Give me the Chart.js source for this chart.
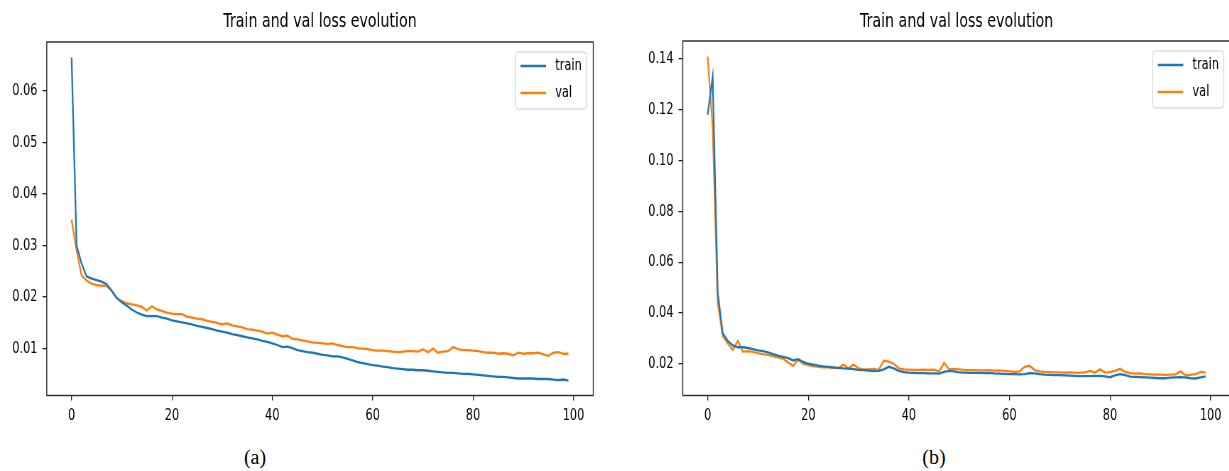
<!DOCTYPE html>
<html>
<head>
<meta charset="utf-8">
<script src="https://cdn.jsdelivr.net/npm/chart.js@4"></script>
<style>
    html, body {
        margin: 0;
        padding: 0;
        width: 1229px;
        height: 471px;
        overflow: hidden;
        background: #fff;
    }
    .panel {
        position: absolute;
        top: 0;
        transform: scaleX(0.71);
        transform-origin: 0 0;
    }
    .caption {
        position: absolute;
        top: 446px;
        font-family: "Liberation Serif", serif;
        font-size: 20px;
        color: #000;
        transform: translateX(-50%);
    }
</style>
</head>
<body>

<div class="panel" style="left:0px"><canvas id="chartA" width="866" height="440"></canvas></div>
<div class="panel" style="left:615px"><canvas id="chartB" width="900" height="440"></canvas></div>

<div class="caption" style="left:255px">(a)</div>
<div class="caption" style="left:934px">(b)</div>

<script>
/* ==========================================================
   DATA
========================================================== */

const epochs = Array.from({ length: 100 }, (_, i) => i);

const xTicks = [0, 20, 40, 60, 80, 100];

const yTicksA = [0.01, 0.02, 0.03, 0.04, 0.05, 0.06];

const yTicksB = [0.02, 0.04, 0.06, 0.08, 0.10, 0.12, 0.14];

const trainA = [
    0.0665, 0.0300, 0.0265, 0.0240, 0.0236, 0.0233, 0.0230, 0.0225, 0.0212, 0.0198,
    0.0190, 0.0183, 0.0176, 0.0170, 0.0166, 0.0163, 0.0163, 0.0163, 0.0160, 0.0158,
    0.0155, 0.0153, 0.0151, 0.0149, 0.0147, 0.0144, 0.0142, 0.0140, 0.0138, 0.0135,
    0.0133, 0.0131, 0.0128, 0.0126, 0.0124, 0.0122, 0.0120, 0.0118, 0.0115, 0.0113,
    0.0110, 0.0107, 0.0103, 0.0104, 0.0101, 0.0097, 0.0095, 0.0093, 0.0092, 0.0090,
    0.0088, 0.0087, 0.0085, 0.0085, 0.0083, 0.0080, 0.0077, 0.0074, 0.0072, 0.0070,
    0.0068, 0.0067, 0.0065, 0.0064, 0.0062, 0.0061, 0.0060, 0.0059, 0.0059, 0.0058,
    0.0058, 0.0057, 0.0056, 0.0055, 0.0054, 0.0053, 0.0053, 0.0052, 0.0051, 0.0051,
    0.0050, 0.0049, 0.0048, 0.0047, 0.0046, 0.0045, 0.0045, 0.0044, 0.0043, 0.0042,
    0.0042, 0.0042, 0.0042, 0.0041, 0.0041, 0.0041, 0.0040, 0.0039, 0.0040, 0.0038
];

const valA = [
    0.0350, 0.0290, 0.0242, 0.0232, 0.0226, 0.0223, 0.0222, 0.0222, 0.0212, 0.0198,
    0.0192, 0.0188, 0.0186, 0.0184, 0.0181, 0.0174, 0.0182, 0.0176, 0.0173, 0.0170,
    0.0168, 0.0167, 0.0167, 0.0162, 0.0160, 0.0158, 0.0157, 0.0154, 0.0152, 0.0150,
    0.0147, 0.0149, 0.0145, 0.0143, 0.0141, 0.0138, 0.0137, 0.0135, 0.0133, 0.0129,
    0.0131, 0.0127, 0.0124, 0.0125, 0.0119, 0.0118, 0.0116, 0.0114, 0.0112, 0.0111,
    0.0110, 0.0109, 0.0110, 0.0107, 0.0105, 0.0103, 0.0103, 0.0101, 0.0100, 0.0099,
    0.0097, 0.0096, 0.0096, 0.0095, 0.0094, 0.0093, 0.0094, 0.0095, 0.0095, 0.0094,
    0.0099, 0.0093, 0.0100, 0.0092, 0.0094, 0.0095, 0.0103, 0.0099, 0.0097, 0.0097,
    0.0096, 0.0095, 0.0093, 0.0092, 0.0092, 0.0090, 0.0091, 0.0090, 0.0087, 0.0092,
    0.0090, 0.0091, 0.0091, 0.0092, 0.0089, 0.0086, 0.0092, 0.0093, 0.0090, 0.0090
];

const trainB = [
    0.1180, 0.1330, 0.0480, 0.0320, 0.0290, 0.0272, 0.0265, 0.0265, 0.0262, 0.0258,
    0.0253, 0.0250, 0.0245, 0.0238, 0.0232, 0.0227, 0.0222, 0.0213, 0.0218, 0.0207,
    0.0200, 0.0197, 0.0193, 0.0190, 0.0188, 0.0186, 0.0184, 0.0182, 0.0181, 0.0179,
    0.0176, 0.0175, 0.0173, 0.0171, 0.0172, 0.0178, 0.0188, 0.0182, 0.0172, 0.0167,
    0.0165, 0.0164, 0.0163, 0.0163, 0.0162, 0.0162, 0.0161, 0.0168, 0.0172, 0.0170,
    0.0166, 0.0165, 0.0164, 0.0164, 0.0164, 0.0163, 0.0164, 0.0162, 0.0161, 0.0160,
    0.0159, 0.0159, 0.0158, 0.0159, 0.0163, 0.0162, 0.0159, 0.0157, 0.0156, 0.0155,
    0.0155, 0.0154, 0.0153, 0.0152, 0.0151, 0.0151, 0.0151, 0.0152, 0.0152, 0.0150,
    0.0147, 0.0154, 0.0159, 0.0155, 0.0149, 0.0148, 0.0147, 0.0146, 0.0145, 0.0144,
    0.0143, 0.0143, 0.0145, 0.0146, 0.0147, 0.0146, 0.0143, 0.0142, 0.0146, 0.0150
];

const valB = [
    0.1410, 0.1130, 0.0440, 0.0310, 0.0280, 0.0255, 0.0290, 0.0248, 0.0250, 0.0247,
    0.0242, 0.0238, 0.0235, 0.0230, 0.0225, 0.0220, 0.0205, 0.0192, 0.0215, 0.0200,
    0.0195, 0.0191, 0.0188, 0.0186, 0.0186, 0.0184, 0.0183, 0.0197, 0.0181, 0.0197,
    0.0182, 0.0178, 0.0178, 0.0180, 0.0176, 0.0212, 0.0208, 0.0200, 0.0182, 0.0178,
    0.0177, 0.0176, 0.0176, 0.0177, 0.0176, 0.0177, 0.0170, 0.0203, 0.0178, 0.0180,
    0.0178, 0.0176, 0.0175, 0.0175, 0.0174, 0.0174, 0.0175, 0.0173, 0.0174, 0.0172,
    0.0170, 0.0168, 0.0170, 0.0188, 0.0192, 0.0175, 0.0170, 0.0168, 0.0167, 0.0166,
    0.0166, 0.0165, 0.0166, 0.0165, 0.0164, 0.0166, 0.0172, 0.0165, 0.0178, 0.0165,
    0.0167, 0.0172, 0.0180, 0.0168, 0.0163, 0.0161, 0.0162, 0.0159, 0.0158, 0.0157,
    0.0157, 0.0156, 0.0157, 0.0158, 0.0170, 0.0155, 0.0156, 0.0159, 0.0168, 0.0165
];


/* ==========================================================
   STYLE
========================================================== */

const FONT = "'DejaVu Sans', sans-serif";

const BLUE = "#1f77b4";

const ORANGE = "#ff7f0e";

const LINE_WIDTH = 2.3;


/* ==========================================================
   PLUGIN : FRAME + LEGEND (matplotlib look)
========================================================== */

const framePlugin = {

    id: "frameLegend",

    afterDraw(chart) {

        const ctx = chart.ctx;
        const area = chart.chartArea;

        // axes frame, all four sides
        ctx.save();
        ctx.strokeStyle = "#333";
        ctx.lineWidth = 1.5;
        ctx.strokeRect(area.left, area.top, area.right - area.left, area.bottom - area.top);

        // legend box, upper right
        ctx.font = "16px " + FONT;

        const labels = chart.data.datasets.map(ds => ds.label);
        const textW = Math.max(...labels.map(t => ctx.measureText(t).width));

        const boxW = 7 + 36 + 13 + textW + 7;
        const boxH = 57;
        const x0 = area.right - 9.3 - boxW;
        const y0 = area.top + 10;

        ctx.beginPath();
        ctx.roundRect(x0, y0, boxW, boxH, 4);
        ctx.fillStyle = "rgba(255,255,255,0.8)";
        ctx.fill();
        ctx.strokeStyle = "#cccccc";
        ctx.lineWidth = 1;
        ctx.stroke();

        chart.data.datasets.forEach((ds, i) => {

            const y = y0 + 14 + i * 27;

            ctx.beginPath();
            ctx.moveTo(x0 + 7, y);
            ctx.lineTo(x0 + 43, y);
            ctx.strokeStyle = ds.borderColor;
            ctx.lineWidth = LINE_WIDTH;
            ctx.stroke();

            ctx.fillStyle = "#000";
            ctx.textBaseline = "middle";
            ctx.textAlign = "left";
            ctx.fillText(ds.label, x0 + 56, y);

        });

        ctx.restore();

    }

};


/* ==========================================================
   RENDER LOSS CHART
========================================================== */

function renderLossChart(canvasId, train, val, yTicks, yMin, yMax, box) {

    const ctx = document
        .getElementById(canvasId)
        .getContext("2d");

    return new Chart(ctx, {

        type: "line",

        data: {

            datasets: [

                {
                    label: "train",
                    data: epochs.map((e, i) => ({ x: e, y: train[i] })),
                    borderColor: BLUE,
                    borderWidth: LINE_WIDTH,
                    pointRadius: 0,
                    tension: 0
                },

                {
                    label: "val",
                    data: epochs.map((e, i) => ({ x: e, y: val[i] })),
                    borderColor: ORANGE,
                    borderWidth: LINE_WIDTH,
                    pointRadius: 0,
                    tension: 0
                }

            ]

        },

        options: {

            responsive: false,

            animation: false,

            devicePixelRatio: 1,

            layout: {

                padding: { left: 0, right: box.padRight, top: 0, bottom: 0 }

            },

            plugins: {

                legend: { display: false },

                tooltip: { enabled: false },

                title: {

                    display: true,

                    text: "Train and val loss evolution",

                    fullSize: false,

                    color: "#000",

                    font: { family: FONT, size: 20, weight: "normal" },

                    padding: { top: 10, bottom: box.titleBottom }

                }

            },

            scales: {

                x: {

                    type: "linear",

                    min: -4.95,

                    max: 103.95,

                    afterBuildTicks: scale => {
                        scale.ticks = xTicks.map(v => ({ value: v }));
                    },

                    afterFit: scale => {
                        scale.height = box.xHeight;
                    },

                    border: { display: false },

                    grid: {
                        drawOnChartArea: false,
                        drawTicks: true,
                        tickLength: 5,
                        color: "#222",
                        lineWidth: 1.3
                    },

                    ticks: {
                        color: "#000",
                        padding: 6,
                        maxRotation: 0,
                        font: { family: FONT, size: 16 },
                        callback: v => String(v)
                    }

                },

                y: {

                    type: "linear",

                    min: yMin,

                    max: yMax,

                    afterBuildTicks: scale => {
                        scale.ticks = yTicks.map(v => ({ value: v }));
                    },

                    afterFit: scale => {
                        scale.width = box.yWidth;
                    },

                    border: { display: false },

                    grid: {
                        drawOnChartArea: false,
                        drawTicks: true,
                        tickLength: 6,
                        color: "#222",
                        lineWidth: 1.3
                    },

                    ticks: {
                        color: "#000",
                        padding: 7,
                        font: { family: FONT, size: 16 },
                        callback: v => v.toFixed(2)
                    }

                }

            }

        },

        plugins: [framePlugin]

    });

}


/* ==========================================================
   INIT
========================================================== */

renderLossChart("chartA", trainA, valA, yTicksA, 0.0009, 0.0695, {
    yWidth: 65.8,
    padRight: 30.4,
    xHeight: 44.5,
    titleBottom: 8
});

renderLossChart("chartB", trainB, valB, yTicksB, 0.0075, 0.1471, {
    yWidth: 95.4,
    padRight: 33.1,
    xHeight: 44.5,
    titleBottom: 7
});
</script>

</body>
</html>
